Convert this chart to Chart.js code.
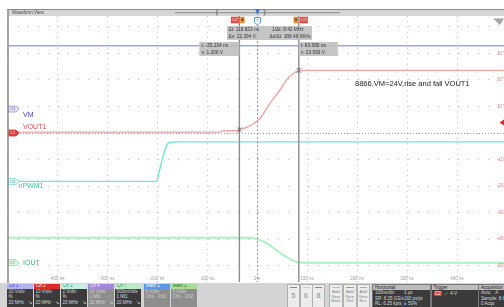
<!DOCTYPE html>
<html>
<head>
<meta charset="utf-8">
<title>Waveform View</title>
<script src="https://cdn.jsdelivr.net/npm/chart.js@4.4.1/dist/chart.umd.min.js"></script>
<style>
  body { margin: 0; width: 504px; height: 307px; overflow: hidden; background: #fff; position: relative;
         font-family: "Liberation Sans", Arial, sans-serif; }
  #scope { position: absolute; left: 0; top: 0; }
  #panel { position: absolute; left: 0; top: 283px; width: 504px; height: 24px; background: #d4d4d4;
           font-size: 4.5px; line-height: 5.5px; }
  .b { position: absolute; top: 1px; width: 26px; height: 23px; background: #3b3b3b; color: #d8d8d8; overflow: hidden; }
  .b.off { background: #8e8e8e; color: #d4d4d4; }
  .b .h { height: 4.6px; line-height: 4.8px; padding-left: 2px; }
  .b .r { padding-left: 1.5px; white-space: nowrap; position: relative; }
  .b .r em { position: absolute; right: 1.5px; font-style: normal; }
  .k { position: absolute; top: 1px; height: 22px; background: #ececec; border: 0.5px solid #b0b0b0; color: #8a8a8a; text-align: center; }
  .k i { display: block; height: 1.5px; margin: 1.5px 2px 0; }
  .k .n { font-size: 7px; line-height: 16px; }
  .k .t { font-size: 4.3px; line-height: 4.6px; margin-top: 2px; }
  .p { position: absolute; top: 1px; height: 22.5px; background: #3b3b3b; color: #d8d8d8; border: 0.5px solid #777; overflow: hidden; }
  .p .h { background: #bdbdbd; color: #222; height: 5px; line-height: 5px; padding-left: 2px; }
  .p .r { padding-left: 2px; white-space: nowrap; height: 5.6px; line-height: 5.6px; position: relative; }
  .p .r em { position: absolute; left: 31px; font-style: normal; }
  .tag { background: #e03a3a; color: #fff; padding: 0 1.5px; border-radius: 1px; }
</style>
</head>
<body>
<canvas id="scope" width="504" height="307"></canvas>

<div id="panel">
  <div class="b" style="left:7px"><div class="h" style="background:#b4b4ec;color:#3a3ad0">Ch 1</div><div class="r">10 V/div</div><div class="r">%</div><div class="r">20 MHz<em>↘</em></div></div>
  <div class="b" style="left:34px"><div class="h" style="background:#e02a2a;color:#fff">Ch 2</div><div class="r">10 V/div</div><div class="r">%</div><div class="r">20 MHz<em>↘</em></div></div>
  <div class="b" style="left:61px"><div class="h" style="background:#c6eee6;color:#2a9a88">Ch 3</div><div class="r">2 V/div</div><div class="r">%</div><div class="r">20 MHz<em>↘</em></div></div>
  <div class="b off" style="left:88px"><div class="h" style="background:#a486dc;color:#fff">Ch 4</div><div class="r">10 V/div</div><div class="r">1 MΩ</div><div class="r">20 MHz<em>↘</em></div></div>
  <div class="b" style="left:115px"><div class="h" style="background:#bdeac6;color:#2a8a4a">Ch 7</div><div class="r">500mV/div</div><div class="r">1 MΩ</div><div class="r">20 MHz<em>↘</em></div></div>
  <div class="b off" style="left:144px"><div class="h" style="background:#5a98e6;color:#fff">Math 1</div><div class="r">5 V/div</div><div class="r">Ch1 - Ch2</div></div>
  <div class="b off" style="left:171px"><div class="h" style="background:#a6dc96;color:#3a6a2a">Math 2</div><div class="r">5 V/div</div><div class="r">Ch1 - Ch2</div></div>

  <div class="k" style="left:287px;width:11px"><i style="background:#4a9ee6"></i><div class="n">5</div></div>
  <div class="k" style="left:299.5px;width:11px"><i style="background:#e6d84a"></i><div class="n">6</div></div>
  <div class="k" style="left:312px;width:11px"><i style="background:#e65a8a"></i><div class="n">8</div></div>
  <div class="k" style="left:329px;width:11.5px"><i style="background:#7adede"></i><div class="t">Add<br>New<br>Math</div></div>
  <div class="k" style="left:343px;width:11.5px"><i style="background:#b89a7a"></i><div class="t">Add<br>New<br>Ref</div></div>
  <div class="k" style="left:356.5px;width:11.5px"><i style="background:#84d064"></i><div class="t">Add<br>New<br>Bus</div></div>

  <div class="p" style="left:372px;width:57px"><div class="h">Horizontal</div>
    <div class="r">100ns/div<em>1 μs</em></div>
    <div class="r">SR: 6.25 GS/s<em>160 ps/pt</em></div>
    <div class="r">RL: 6.25 kpts<em><span style="color:#4a9ee6">■</span> 50%</em></div></div>
  <div class="p" style="left:430.5px;width:46px"><div class="h">Trigger</div>
    <div class="r" style="margin-top:1px"><span class="tag">C2</span>&nbsp;&nbsp;⟋&nbsp;&nbsp;4 V</div></div>
  <div class="p" style="left:478px;width:30px"><div class="h">Acquisition</div>
    <div class="r">Auto,&nbsp;&nbsp;&nbsp;A</div>
    <div class="r">Sample: 8 bits</div>
    <div class="r">0 Acqs</div></div>
</div>

<script>
// ---- values ----
const timeTicks = [-400, -300, -200, -100, 0, 100, 200, 300, 400];
const timeLabels = ['-400 ns', '-300 ns', '-200 ns', '-100 ns', '0 s', '100 ns', '200 ns', '300 ns', '400 ns'];
const ch2Ticks = [-50, -40, -30, -20, -10, 0, 10, 20, 30, 40];
const ch2Labels = ['-50 V', '-40 V', '-30 V', '-20 V', '-10 V', '', '10 V', '20 V', '30 V', ''];

const traceNames = ['VM', 'VOUT1', 'nPWM1', 'IOUT'];

// VM, Ch1 (V)
const vmTime = [-498, 494];
const vmVolts = [23.8, 23.8];

// VOUT1, Ch2 (V)
const voutTime  = [-498, -76, -70, -42, -35, -21, -7, 6, 26, 46, 59, 73, 84, 96, 494];
const voutVolts = [0.35, 0.35, 0.8, 0.9, 1.2, 2.1, 3.6, 5.5, 11.2, 16.2, 20.0, 22.5, 23.5, 23.6, 23.6];

// nPWM1, Ch3 (V)
const pwmTime  = [-498, -201, -196, -190, -184, -179, -172, -160, 494];
const pwmVolts = [0.02, 0.02, 0.7, 1.6, 2.4, 2.85, 2.97, 3.0, 3.0];

// IOUT, Ch7 (probe V)
const ioutTime  = [-498, -20, -5, 0, 10, 20, 32, 43, 53, 63, 73, 83, 95, 494];
const ioutVolts = [0.471, 0.47, 0.46, 0.446, 0.41, 0.365, 0.285, 0.207, 0.14, 0.083, 0.035, 0.008, 0.0, 0.0];

// cursors A / B on VOUT1
const cursorTime = [-35.234, 83.589];
const cursorVolts = [1.200, 23.593];
const cursorText = [['t: -35.234 ns', 'v: 1.200 V'], ['t: 83.589 ns', 'v: 23.593 V']];
const deltaText = ['Δt: 118.823 ns', 'Δv: 22.394 V', '1/Δt: 8.42 MHz', 'Δv/Δt: 188.46 MV/s'];
const trigLevel = 4;
const note = '8866,VM=24V,rise and fall VOUT1';

const pts = (ts, vs) => ts.map((t, i) => ({ x: t, y: vs[i] }));
const trace = (data, axis, color, w) => ({
  data, yAxisID: axis, borderColor: color, borderWidth: w,
  pointRadius: 0, fill: false, cubicInterpolationMode: 'monotone'
});
const hidden = (min, max) => ({ type: 'linear', display: false, min, max });
const font = px => px + 'px "Liberation Sans", Arial, sans-serif';

function tagShape(c, x, y, w, h, fill, edge, txt, col) {
  c.beginPath();
  c.moveTo(x, y - h / 2);
  c.lineTo(x + w - 3, y - h / 2);
  c.lineTo(x + w, y);
  c.lineTo(x + w - 3, y + h / 2);
  c.lineTo(x, y + h / 2);
  c.closePath();
  c.fillStyle = fill; c.fill();
  c.strokeStyle = edge; c.lineWidth = 0.8; c.stroke();
  c.fillStyle = col; c.font = font(3.8); c.textAlign = 'center'; c.textBaseline = 'middle';
  c.fillText(txt, x + (w - 2) / 2, y + 0.3);
}

function box(c, x, y, w, h, fill, txt, col) {
  c.fillStyle = fill; c.fillRect(x, y, w, h);
  c.fillStyle = col; c.font = font(4.2); c.textAlign = 'center'; c.textBaseline = 'middle';
  c.fillText(txt, x + w / 2, y + h / 2 + 0.3);
}

const overlay = {
  id: 'overlay',
  afterDraw(chart) {
    const c = chart.ctx, a = chart.chartArea, sx = chart.scales.x;
    const s1 = chart.scales.yVM, s2 = chart.scales.yOut, s3 = chart.scales.yPwm, s7 = chart.scales.yIout;
    c.save();

    // ch2 ground ref (dotted)
    const g2 = Math.round(s2.getPixelForValue(0)) + 0.5;
    c.strokeStyle = '#9a9a9a'; c.lineWidth = 1; c.setLineDash([1, 2]);
    c.beginPath(); c.moveTo(a.left, g2); c.lineTo(a.right, g2); c.stroke();

    // trigger position (dashed)
    const tx = Math.round(sx.getPixelForValue(0)) + 0.5;
    c.setLineDash([2, 2]);
    c.beginPath(); c.moveTo(tx, 25); c.lineTo(tx, a.bottom); c.stroke();
    c.setLineDash([]);

    // cursors
    const cx = cursorTime.map(t => sx.getPixelForValue(t));
    c.strokeStyle = '#8c8c8c'; c.lineWidth = 1.4;
    cx.forEach(x => { c.beginPath(); c.moveTo(x, a.top); c.lineTo(x, a.bottom); c.stroke(); });
    c.strokeStyle = '#6a6a6a'; c.lineWidth = 0.8;
    cx.forEach((x, i) => {
      const y = s2.getPixelForValue(cursorVolts[i]);
      c.beginPath();
      c.moveTo(x - 2.5, y - 2.5); c.lineTo(x + 2.5, y + 2.5);
      c.moveTo(x - 2.5, y + 2.5); c.lineTo(x + 2.5, y - 2.5);
      c.moveTo(x, y - 3); c.lineTo(x, y + 3);
      c.stroke();
    });

    // readout boxes
    c.fillStyle = 'rgba(192,192,192,0.92)';
    c.fillRect(cx[0] - 40, 42, 40, 14);
    c.fillRect(cx[1], 42, 39, 14);
    c.fillRect(227, 26, 85, 14);
    c.fillStyle = '#333'; c.font = font(4.8); c.textAlign = 'left'; c.textBaseline = 'middle';
    c.fillText(cursorText[0][0], cx[0] - 38, 46); c.fillText(cursorText[0][1], cx[0] - 38, 52.5);
    c.fillText(cursorText[1][0], cx[1] + 2, 46); c.fillText(cursorText[1][1], cx[1] + 2, 52.5);
    c.fillText(deltaText[0], 228.5, 30); c.fillText(deltaText[1], 228.5, 36.5);
    c.fillText(deltaText[2], 272, 30); c.fillText(deltaText[3], 269.5, 36.5);

    // channel ground tags + names
    const tags = [
      { s: s1, id: 'C1', col: '#4545d6', fill: '#e2e2f8', edge: '#9a9ae8', dx: 23, dy: 6 },
      { s: s2, id: 'C2', col: '#fff', fill: '#e03a3a', edge: '#e03a3a', dx: 23, dy: -5.8, tc: '#e45050' },
      { s: s3, id: 'C3', col: '#2aa890', fill: '#e0f8f4', edge: '#70dcc8', dx: 18.5, dy: 4.8, tc: '#38c8b0' },
      { s: s7, id: 'C7', col: '#2a9a5a', fill: '#e2f6e8', edge: '#80d8a0', dx: 23, dy: 0, tc: '#3cba6c' }
    ];
    tags.forEach((t, i) => {
      const y = t.s.getPixelForValue(0);
      tagShape(c, 8.5, y, 10.5, 6, t.fill, t.edge, t.id, t.col);
      c.fillStyle = t.tc || t.col; c.font = font(7); c.textAlign = 'left'; c.textBaseline = 'middle';
      c.fillText(traceNames[i], t.dx, y + t.dy);
    });

    // note
    c.fillStyle = '#1a1a1a'; c.font = font(7.5); c.textAlign = 'left'; c.textBaseline = 'middle';
    c.fillText(note, 355, 84);

    // time labels
    c.fillStyle = '#9a9a9a'; c.font = font(4.5); c.textAlign = 'center';
    timeTicks.forEach((t, i) => c.fillText(timeLabels[i], sx.getPixelForValue(t), 279));

    // ch2 scale labels, right edge
    c.fillStyle = '#e88080'; c.textAlign = 'left';
    ch2Ticks.forEach((v, i) => c.fillText(ch2Labels[i], 497, s2.getPixelForValue(v)));

    // trigger level arrow
    const ty = s2.getPixelForValue(trigLevel);
    c.fillStyle = '#e02a2a';
    c.beginPath(); c.moveTo(499.5, ty); c.lineTo(504, ty - 3); c.lineTo(504, ty + 3); c.closePath(); c.fill();

    // top-right badge
    c.fillStyle = '#a4a4a4';
    c.beginPath(); c.moveTo(493, 18.5); c.lineTo(504, 18.5); c.lineTo(500, 25); c.closePath(); c.fill();

    // title bar
    c.fillStyle = '#d6d6d6'; c.fillRect(8, 9, 496, 7);
    c.strokeStyle = '#8a8a8a'; c.lineWidth = 1;
    c.beginPath(); c.moveTo(8, 9.5); c.lineTo(504, 9.5); c.stroke();
    c.lineWidth = 1.5;
    c.beginPath(); c.moveTo(8, 9); c.lineTo(8, 283); c.stroke();
    c.fillStyle = '#4a4a4a'; c.font = font(4.6); c.textAlign = 'left'; c.textBaseline = 'middle';
    c.fillText('Waveform View', 12, 12.8);
    c.strokeStyle = '#9a9a9a'; c.lineWidth = 1.2;
    c.beginPath(); c.moveTo(175, 12.7); c.lineTo(340, 12.7); c.stroke();
    c.strokeStyle = '#6a6a6a'; c.lineWidth = 0.8;
    c.beginPath();
    c.moveTo(218, 10.5); c.lineTo(216.7, 10.5); c.lineTo(216.7, 15); c.lineTo(218, 15);
    c.moveTo(263.5, 10.5); c.lineTo(264.8, 10.5); c.lineTo(264.8, 15); c.lineTo(263.5, 15);
    c.stroke();

    // trigger T marker
    c.fillStyle = '#3a7ad8';
    c.beginPath(); c.moveTo(tx - 2.5, 9); c.lineTo(tx + 2.5, 9); c.lineTo(tx, 15); c.closePath(); c.fill();
    c.fillStyle = '#fff'; c.strokeStyle = '#3a7ad8'; c.lineWidth = 0.8;
    c.beginPath();
    c.moveTo(tx - 3, 17.5); c.lineTo(tx + 3, 17.5); c.lineTo(tx + 3, 22.5); c.lineTo(tx, 25); c.lineTo(tx - 3, 22.5);
    c.closePath(); c.fill(); c.stroke();
    c.fillStyle = '#3a7ad8'; c.font = font(4.2); c.textAlign = 'center';
    c.fillText('T', tx, 20.5);

    // cursor A/B tags
    box(c, cx[0] - 8.5, 16.7, 8, 6.6, '#e84848', 'C2', '#fff');
    box(c, cx[0] + 0.8, 16.7, 4.4, 6.6, '#e8902a', 'A', '#4a2a00');
    box(c, cx[1] - 5.2, 16.7, 4.4, 6.6, '#e8902a', 'B', '#4a2a00');
    box(c, cx[1] + 1, 16.7, 8, 6.6, '#e84848', 'C2', '#fff');

    c.restore();
  }
};

new Chart(document.getElementById('scope'), {
  type: 'line',
  data: {
    datasets: [
      trace(pts(vmTime, vmVolts), 'yVM', '#7474f0', 1),
      trace(pts(ioutTime, ioutVolts), 'yIout', '#aaf0c2', 1.9),
      trace(pts(pwmTime, pwmVolts), 'yPwm', '#6ee8d4', 1.4),
      trace(pts(voutTime, voutVolts), 'yOut', '#f4a2a2', 1.4)
    ]
  },
  options: {
    responsive: false,
    animation: false,
    devicePixelRatio: 1,
    layout: { padding: { left: 8, top: 16, right: 0, bottom: 25 } },
    plugins: { legend: { display: false }, tooltip: { enabled: false } },
    scales: {
      x: {
        type: 'linear', min: -498, max: 494,
        afterBuildTicks: s => { s.ticks = [-500].concat(timeTicks).map(v => ({ value: v })); },
        afterFit: s => { s.height = 0; },
        ticks: { display: false },
        grid: { color: '#c2c2c2', drawTicks: false },
        border: { display: false, dash: [1, 4.3] }
      },
      yOut: {
        type: 'linear', position: 'right', min: -56.1, max: 44.07,
        afterBuildTicks: s => { s.ticks = ch2Ticks.map(v => ({ value: v })); },
        afterFit: s => { s.width = 0; },
        ticks: { display: false },
        grid: { color: '#c2c2c2', drawTicks: false },
        border: { display: false, dash: [1, 9] }
      },
      yVM: hidden(-65.16, 35.03),
      yPwm: hidden(-7.556, 12.48),
      yIout: hidden(-0.3635, 4.646)
    }
  },
  plugins: [overlay]
});
</script>
</body>
</html>
